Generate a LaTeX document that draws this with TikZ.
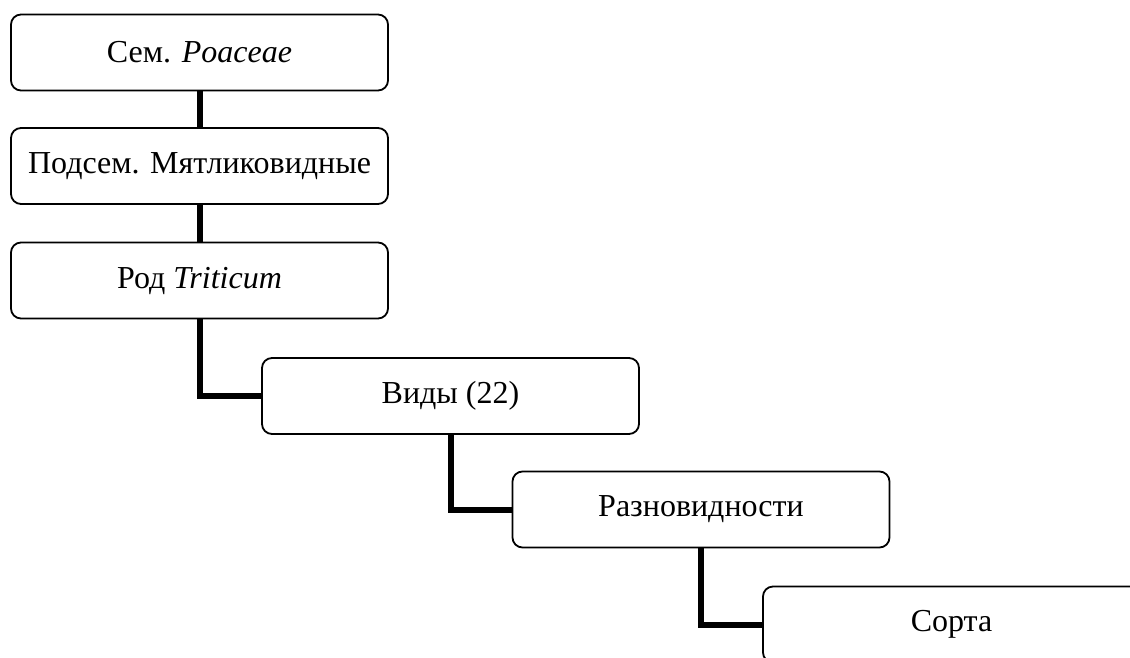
\documentclass[tikz,border=0pt]{standalone}
\usepackage{fontspec}
\setmainfont{Liberation Serif}
\begin{document}
\begin{tikzpicture}[x=1pt,y=-1pt,
  taxbox/.style={draw=black,line width=1.8pt,rounded corners=10pt,fill=white,
    minimum width=377pt,minimum height=76pt,inner sep=0pt,
    font=\fontsize{32}{38}\selectfont},
  link/.style={line width=6pt,black}]
\useasboundingbox (0,0) rectangle (1130,657);
\clip (0,0) rectangle (1130,657);
\node[taxbox] (n1) at (199.5,52.5) {Сем. \textit{Poaceae}};
\node[taxbox] (n2) at (199.5,166) {Подсем. Мятликовидные};
\node[taxbox] (n3) at (199.5,280.5) {Род \textit{Triticum}};
\node[taxbox] (n4) at (450.5,396) {Виды (22)};
\node[taxbox] (n5) at (701,509.5) {Разновидности};
\node[taxbox] (n6) at (951.5,624.5) {Сорта};
\draw[link] (n1.south) -- (n2.north);
\draw[link] (n2.south) -- (n3.north);
\draw[link] (n3.south) |- (n4.west);
\draw[link] (n4.south) |- (n5.west);
\draw[link] (n5.south) |- (n6.west);
\end{tikzpicture}
\end{document}
